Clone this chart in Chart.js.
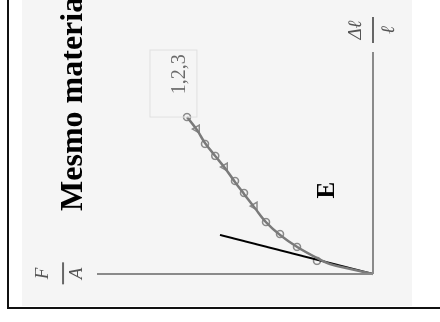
<!DOCTYPE html>
<html>
<head>
<meta charset="utf-8">
<script src="https://cdn.jsdelivr.net/npm/chart.js@4"></script>
<style>
html, body { margin: 0; padding: 0; width: 440px; height: 322px; background: #fff; overflow: hidden; }
#paper { position: absolute; left: 22px; top: 0; width: 390px; height: 306px; background: #f5f5f5; }
#frame { position: absolute; left: 7px; top: -5px; width: 440px; height: 312px; border-left: 2px solid #111; border-bottom: 2px solid #111; }
#wrap { position: absolute; left: 0; top: 0; width: 322px; height: 440px; transform-origin: 0 0; transform: translateY(322px) rotate(-90deg); }
</style>
</head>
<body>
<div id="paper"></div>
<div id="frame"></div>
<div id="wrap"><canvas id="stressStrain" width="322" height="440"></canvas></div>
<script>
// curva tensao x deformacao (escala 0..1)
const curveStrain = [0, 0.023, 0.045, 0.072, 0.122, 0.176, 0.234, 0.297, 0.360, 0.414, 0.477, 0.532, 0.590, 0.649, 0.707];
const curveStress = [0, 0.083, 0.156, 0.203, 0.275, 0.337, 0.388, 0.428, 0.467, 0.500, 0.536, 0.572, 0.609, 0.638, 0.674];

// ensaios: circulos e triangulos
const circleStrain = [0.707, 0.586, 0.532, 0.419, 0.365, 0.234, 0.180, 0.122, 0.059];
const circleStress = [0.674, 0.609, 0.572, 0.500, 0.467, 0.388, 0.337, 0.275, 0.203];
const triStrain = [0.653, 0.482, 0.306];
const triStress = [0.638, 0.536, 0.428];

// reta tangente na origem (modulo E)
const tangentStrain = [0, 0.176];
const tangentStress = [0, 0.554];

const axisMax = 1;

function toPoints(xs, ys) {
	return xs.map((x, i) => ({ x: x, y: ys[i] }));
}

const labelsPlugin = {
	id: 'labels',
	afterDatasetsDraw(chart) {
		const ctx = chart.ctx;
		const xs = chart.scales.x;
		const ys = chart.scales.y;
		ctx.save();
		ctx.textAlign = 'center';
		ctx.textBaseline = 'middle';

		// caixa "1,2,3"
		ctx.strokeStyle = '#e0e0e0';
		ctx.lineWidth = 1;
		const bx0 = xs.getPixelForValue(0.707), bx1 = xs.getPixelForValue(1.009);
		const by0 = ys.getPixelForValue(0.808), by1 = ys.getPixelForValue(0.638);
		ctx.strokeRect(bx0, by0, bx1 - bx0, by1 - by0);
		ctx.fillStyle = '#6a6a6a';
		ctx.font = '20px "Liberation Serif"';
		ctx.fillText('1,2,3', xs.getPixelForValue(0.90), ys.getPixelForValue(0.699));

		// fracao Δℓ/ℓ
		let cx = xs.getPixelForValue(1.099), cy = ys.getPixelForValue(0);
		ctx.fillStyle = '#555';
		ctx.font = 'italic 19px "Liberation Serif"';
		ctx.fillText('Δℓ', cx, cy - 17);
		ctx.fillText('ℓ', cx, cy + 16);
		ctx.strokeStyle = '#666';
		ctx.lineWidth = 2;
		ctx.beginPath(); ctx.moveTo(cx - 13, cy); ctx.lineTo(cx + 13, cy); ctx.stroke();

		// fracao F/A
		cx = xs.getPixelForValue(0.003); cy = ys.getPixelForValue(1.123);
		ctx.fillText('F', cx, cy - 20);
		ctx.fillText('A', cx, cy + 14);
		ctx.beginPath(); ctx.moveTo(cx - 11, cy); ctx.lineTo(cx + 11, cy); ctx.stroke();

		// E
		ctx.fillStyle = '#000';
		ctx.font = 'bold 25px "Liberation Serif"';
		ctx.fillText('E', xs.getPixelForValue(0.378), ys.getPixelForValue(0.163));

		// titulo
		ctx.textAlign = 'left';
		ctx.textBaseline = 'alphabetic';
		ctx.font = 'bold 32px "Liberation Serif"';
		ctx.fillText('Mesmo material', xs.getPixelForValue(0.284), ys.getPixelForValue(1.054));
		ctx.restore();
	}
};

const ctx = document.getElementById('stressStrain').getContext('2d');

new Chart(ctx, {
	type: 'scatter',
	data: {
		datasets: [{
			label: 'eixo deformacao',
			data: [{ x: 0, y: 0 }, { x: axisMax, y: 0 }],
			showLine: true,
			borderColor: '#8a8a8a',
			borderWidth: 2,
			pointRadius: 0,
			clip: false
		}, {
			label: 'eixo tensao',
			data: [{ x: 0, y: 0 }, { x: 0, y: axisMax }],
			showLine: true,
			borderColor: '#8a8a8a',
			borderWidth: 2,
			pointRadius: 0,
			clip: false
		}, {
			label: 'curva',
			data: toPoints(curveStrain, curveStress),
			showLine: true,
			tension: 0.35,
			borderColor: '#7a7a7a',
			borderWidth: 2.5,
			pointRadius: 0,
			clip: false
		}, {
			label: 'tangente',
			data: toPoints(tangentStrain, tangentStress),
			showLine: true,
			borderColor: '#000',
			borderWidth: 2,
			pointRadius: 0,
			clip: false
		}, {
			label: 'circulos',
			data: toPoints(circleStrain, circleStress),
			pointStyle: 'circle',
			pointRadius: 3.5,
			borderColor: '#8a8a8a',
			backgroundColor: 'rgba(0,0,0,0)',
			borderWidth: 1.5,
			clip: false
		}, {
			label: 'triangulos',
			data: toPoints(triStrain, triStress),
			pointStyle: 'triangle',
			pointRadius: 4.5,
			borderColor: '#8a8a8a',
			backgroundColor: 'rgba(0,0,0,0)',
			borderWidth: 1.5,
			clip: false
		}]
	},
	options: {
		responsive: false,
		animation: false,
		layout: { padding: { left: 48, right: 52, top: 97, bottom: 67 } },
		scales: {
			x: { type: 'linear', min: 0, max: axisMax, display: false },
			y: { type: 'linear', min: 0, max: axisMax, display: false }
		},
		plugins: {
			legend: { display: false },
			tooltip: { enabled: false }
		}
	},
	plugins: [labelsPlugin]
});
</script>
</body>
</html>
